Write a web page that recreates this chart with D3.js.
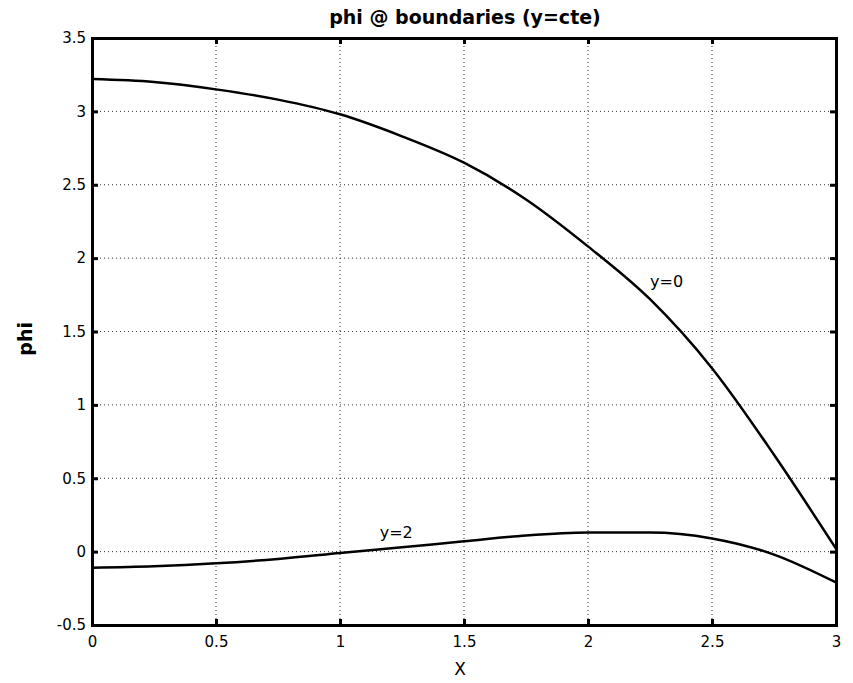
<!DOCTYPE html>
<html>
<head>
<meta charset="utf-8">
<script src="https://cdn.jsdelivr.net/npm/d3@7"></script>
<style>
  body { margin: 0; background: #fff; }
  text { font-family: "DejaVu Sans", sans-serif; }
</style>
</head>
<body>
<script>
// 数据
const xs = [0, 0.25, 0.5, 0.75, 1, 1.25, 1.5, 1.75, 2, 2.25, 2.5, 2.75, 3];
const phiY0 = [3.22, 3.20, 3.15, 3.08, 2.98, 2.83, 2.65, 2.40, 2.08, 1.72, 1.25, 0.66, 0.02];
const phiY2 = [-0.11, -0.10, -0.08, -0.05, -0.01, 0.03, 0.07, 0.11, 0.13, 0.13, 0.09, -0.02, -0.21];
const xTicks = [0, 0.5, 1, 1.5, 2, 2.5, 3];
const yTicks = [-0.5, 0, 0.5, 1, 1.5, 2, 2.5, 3, 3.5];

const width = 853, height = 683;
const margin = { top: 38, right: 17, bottom: 58, left: 92 };
const font = '"DejaVu Sans", sans-serif';

const x = d3.scaleLinear().domain([0, 3]).range([margin.left, width - margin.right]);
const y = d3.scaleLinear().domain([-0.5, 3.5]).range([height - margin.bottom, margin.top]);

const svg = d3.select('body').append('svg')
    .attr('width', width)
    .attr('height', height);

const chart = svg.append('g').attr('class', 'chart');

// 网格
chart.append('g').selectAll('line').data(xTicks.slice(1, -1)).join('line')
    .attr('x1', d => x(d)).attr('x2', d => x(d))
    .attr('y1', y(3.5)).attr('y2', y(-0.5))
    .attr('stroke', '#333').attr('stroke-width', 1).attr('stroke-dasharray', '1,3');
chart.append('g').selectAll('line').data(yTicks.slice(1, -1)).join('line')
    .attr('x1', x(0)).attr('x2', x(3))
    .attr('y1', d => y(d)).attr('y2', d => y(d))
    .attr('stroke', '#333').attr('stroke-width', 1).attr('stroke-dasharray', '1,3');

// 坐标轴
const gx = chart.append('g')
    .attr('transform', `translate(0,${y(-0.5)})`)
    .call(d3.axisBottom(x).tickValues(xTicks).tickSize(-6).tickPadding(11).tickFormat(d3.format('')));
const gxTop = chart.append('g')
    .attr('transform', `translate(0,${y(3.5)})`)
    .call(d3.axisTop(x).tickValues(xTicks).tickSize(-6).tickFormat(''));
const gy = chart.append('g')
    .attr('transform', `translate(${x(0)},0)`)
    .call(d3.axisLeft(y).tickValues(yTicks).tickSize(-6).tickPadding(6)
        .tickFormat(d => d3.format('')(d).replace('\u2212', '-')));
const gyRight = chart.append('g')
    .attr('transform', `translate(${x(3)},0)`)
    .call(d3.axisRight(y).tickValues(yTicks).tickSize(-6).tickFormat(''));

[gx, gxTop, gy, gyRight].forEach(g => {
    g.select('.domain').attr('stroke', '#000').attr('stroke-width', 3);
    g.selectAll('.tick line').attr('stroke', '#000').attr('stroke-width', 3);
    g.selectAll('.tick text').attr('font-size', 15).attr('fill', '#000')
        .attr('font-family', font);
});

// 曲线
const line = d3.line()
    .curve(d3.curveMonotoneX)
    .x((d, i) => x(xs[i]))
    .y(d => y(d));

[phiY0, phiY2].forEach(s => {
    chart.append('path')
        .datum(s)
        .attr('fill', 'none')
        .attr('stroke', '#000')
        .attr('stroke-width', 2.5)
        .attr('stroke-linejoin', 'round')
        .attr('d', line);
});

// 曲线标注
chart.append('text').attr('x', x(2.25)).attr('y', y(1.8))
    .attr('font-size', 16).text('y=0');
chart.append('text').attr('x', x(1.16)).attr('y', y(0.09))
    .attr('font-size', 16).text('y=2');

// 标题和轴标签
svg.append('text').attr('x', x(1.5) + 1).attr('y', 24)
    .attr('text-anchor', 'middle').attr('font-size', 19).attr('font-weight', 'bold')
    .text('phi @ boundaries (y=cte)');
svg.append('text').attr('x', x(1.5) - 4).attr('y', 675)
    .attr('text-anchor', 'middle').attr('font-size', 17)
    .text('X');
svg.append('text')
    .attr('transform', `translate(32,${y(1.45)}) rotate(-90)`)
    .attr('text-anchor', 'middle').attr('font-size', 19).attr('font-weight', 'bold')
    .text('phi');
</script>
</body>
</html>
